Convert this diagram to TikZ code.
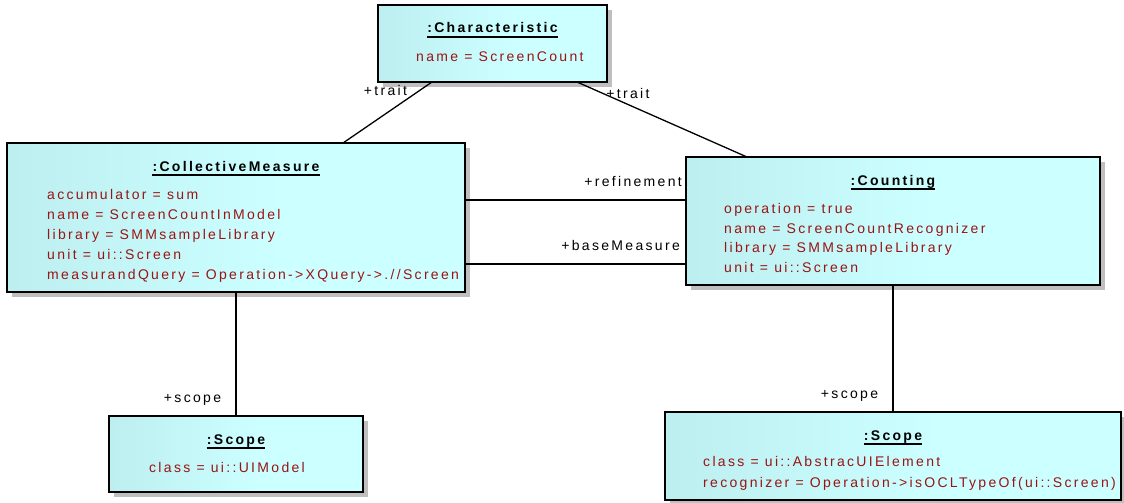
\documentclass[tikz,border=0pt]{standalone}
\usepackage{fontspec}
\setmainfont{Liberation Sans}[LetterSpace=16.5]
\usetikzlibrary{shadows}

\definecolor{attrred}{RGB}{153,20,20}
\definecolor{boxdark}{RGB}{176,225,228}
\definecolor{boxlight}{RGB}{204,255,255}
\pgfdeclarehorizontalshading{objfill}{100bp}{color(0bp)=(boxdark); color(55bp)=(boxlight); color(100bp)=(boxlight)}

\begin{document}
\begin{tikzpicture}[x=1pt,y=-1pt,
  objbox/.style={draw=black, line width=1.6pt, shading=objfill,
    inner sep=0pt, outer sep=0pt,
    drop shadow={shadow xshift=5pt, shadow yshift=-5pt, fill=black!25, opacity=1}},
  objtitle/.style={font=\fontsize{14}{16}\selectfont\bfseries, anchor=base, inner sep=0pt},
  attrline/.style={font=\fontsize{14}{16}\selectfont, text=attrred, anchor=base west, inner sep=0pt},
  rolelabel/.style={font=\fontsize{14}{16}\selectfont, anchor=base, inner sep=0pt},
  link/.style={draw=black, line width=1.3pt},
  uline/.style={draw=black, line width=1.4pt}]

\useasboundingbox (0,0) rectangle (1124,503);

% object boxes
\node[objbox, minimum width=229pt, minimum height=77pt]  (ch)  at (492.5,43.5) {};
\node[objbox, minimum width=458pt, minimum height=149pt] (cm)  at (236,217.5) {};
\node[objbox, minimum width=414pt, minimum height=128pt] (cnt) at (893,221) {};
\node[objbox, minimum width=254pt, minimum height=76pt]  (sc1) at (236,454) {};
\node[objbox, minimum width=456pt, minimum height=88pt]  (sc2) at (893,456) {};

% titles
\node[objtitle] (chT)  at (492.5,33) {:Characteristic};
\node[objtitle] (cmT)  at (236,171)  {:CollectiveMeasure};
\node[objtitle] (cntT) at (893,185)  {:Counting};
\node[objtitle] (sc1T) at (236,444)  {:Scope};
\node[objtitle] (sc2T) at (893,440)  {:Scope};
\foreach \t in {chT,cmT,cntT,sc1T,sc2T}
  \draw[uline] ([yshift=-4pt]\t.base west) -- ([yshift=-4pt]\t.base east);

% attribute slots
\node[attrline] (ch1) at (416,61.5) {name = ScreenCount};

\node[attrline] (cm1) at (47,199) {accumulator = sum};
\node[attrline] (cm2) at (47,219) {name = ScreenCountInModel};
\node[attrline] (cm3) at (47,239) {library = SMMsampleLibrary};
\node[attrline] (cm4) at (47,259) {unit = ui::Screen};
\node[attrline] (cm5) at (47,279) {measurandQuery = Operation->XQuery->.//Screen};

\node[attrline] (cnt1) at (724,213)   {operation = true};
\node[attrline] (cnt2) at (724,233)   {name = ScreenCountRecognizer};
\node[attrline] (cnt3) at (724,252.5) {library = SMMsampleLibrary};
\node[attrline] (cnt4) at (724,272)   {unit = ui::Screen};

\node[attrline] (sc11) at (149,472) {class = ui::UIModel};

\node[attrline] (sc21) at (703,466) {class = ui::AbstracUIElement};
\node[attrline] (sc22) at (703,487) {recognizer = Operation->isOCLTypeOf(ui::Screen)};

% links
\coordinate (xA) at (432,0);
\coordinate (xB) at (343,0);
\coordinate (xC) at (577,0);
\coordinate (xD) at (747,0);
\coordinate (yR) at (0,200);
\coordinate (yB) at (0,264);
\draw[link] (ch.south -| xA) -- (cm.north -| xB);
\draw[link] (ch.south -| xC) -- (cnt.north -| xD);
\draw[link] (cm.east |- yR) -- (cnt.west |- yR);
\draw[link] (cm.east |- yB) -- (cnt.west |- yB);
\draw[link] (cm.south) -- (sc1.north);
\draw[link] (cnt.south) -- (sc2.north);

% role names
\node[rolelabel] (r1) at (385.5,95.5) {+trait};
\node[rolelabel] (r2) at (628,98) {+trait};
\node[rolelabel, anchor=base east] (r3) at (682,186.5) {+refinement};
\node[rolelabel, anchor=base east] (r4) at (680,250.5) {+baseMeasure};
\node[rolelabel] (r5) at (192.5,402.5) {+scope};
\node[rolelabel] (r6) at (849.5,398) {+scope};

\end{tikzpicture}
\end{document}
